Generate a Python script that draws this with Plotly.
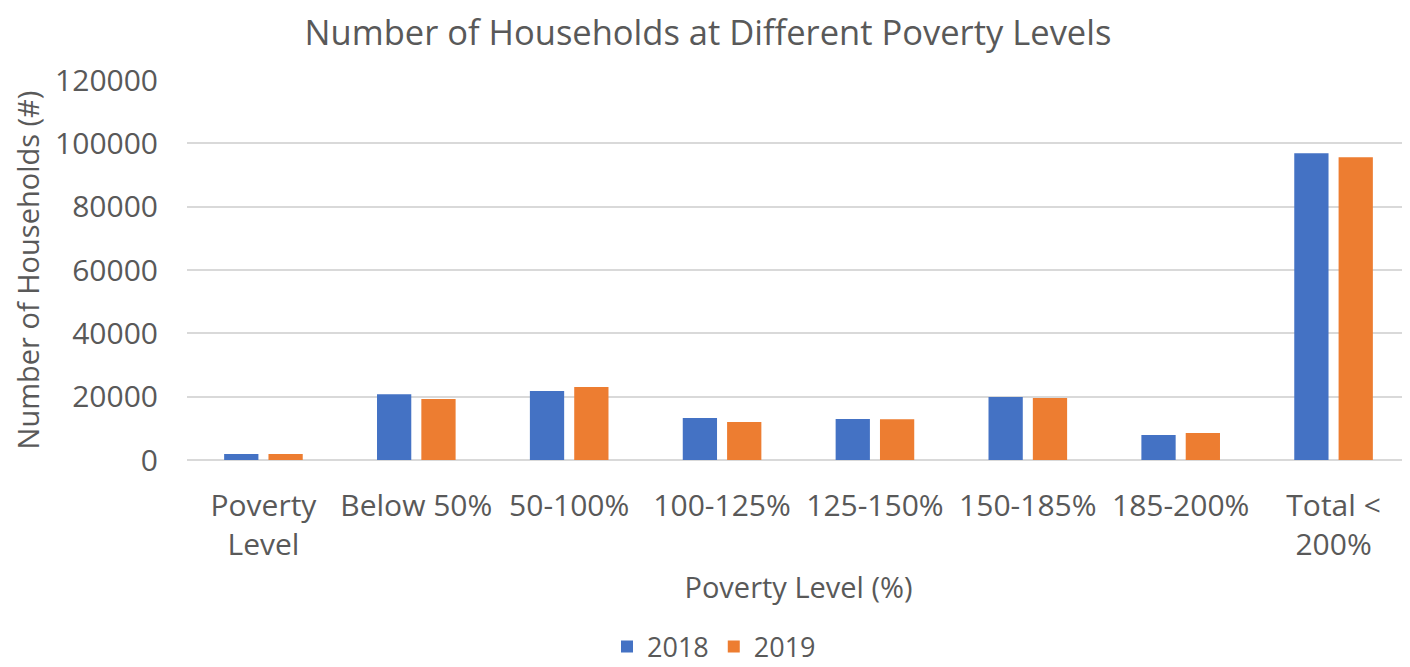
import plotly.graph_objects as go

# categories and values
categories = ["Poverty<br>Level", "Below 50%", "50-100%", "100-125%", "125-150%",
              "150-185%", "185-200%", "Total &lt;<br>200%"]
households_2018 = [1900, 20800, 21800, 13250, 12950, 19900, 7900, 96850]
households_2019 = [1900, 19300, 23050, 12000, 12850, 19600, 8500, 95600]

font_face = "Open Sans"
text_grey = "#595959"

# the page body has an 8px margin, so the figure is drawn 8px smaller
W, H = 1402, 659

fig = go.Figure()
fig.add_trace(go.Bar(name="2018", x=categories, y=households_2018,
                     marker=dict(color="#4472C4", line=dict(width=0))))
fig.add_trace(go.Bar(name="2019", x=categories, y=households_2019,
                     marker=dict(color="#ED7D31", line=dict(width=0))))

fig.update_layout(
    width=W, height=H,
    barmode="group", bargap=0.42, bargroupgap=0.227,
    paper_bgcolor="white", plot_bgcolor="white",
    font=dict(family=font_face, size=30, color=text_grey),
    margin=dict(l=179, r=0, t=72, b=207),
    title=dict(text="Number of Households at Different Poverty Levels",
               x=700 / W, xref="container", xanchor="center",
               y=1 - 25 / H, yref="container", yanchor="middle",
               font=dict(size=34.5, color=text_grey)),
    legend=dict(orientation="h", x=706 / W, xref="container", xanchor="center",
                y=1 - 639 / H, yref="container", yanchor="middle",
                font=dict(size=27)),
)

fig.update_xaxes(
    title=dict(text="Poverty Level (%)", standoff=14, font=dict(size=29)),
    ticks="outside", ticklen=19, tickcolor="rgba(0,0,0,0)",
    showline=False, showgrid=False,
)
fig.update_yaxes(
    title=dict(text="Number of Households (#)", standoff=8, font=dict(size=29)),
    range=[0, 120000], dtick=20000, tickformat="d",
    ticks="outside", ticklen=22, tickcolor="rgba(0,0,0,0)",
    showgrid=True, gridcolor="#D9D9D9", gridwidth=1.5,
    zeroline=True, zerolinecolor="#D9D9D9", zerolinewidth=1.5,
)

fig.write_html("out.html")
